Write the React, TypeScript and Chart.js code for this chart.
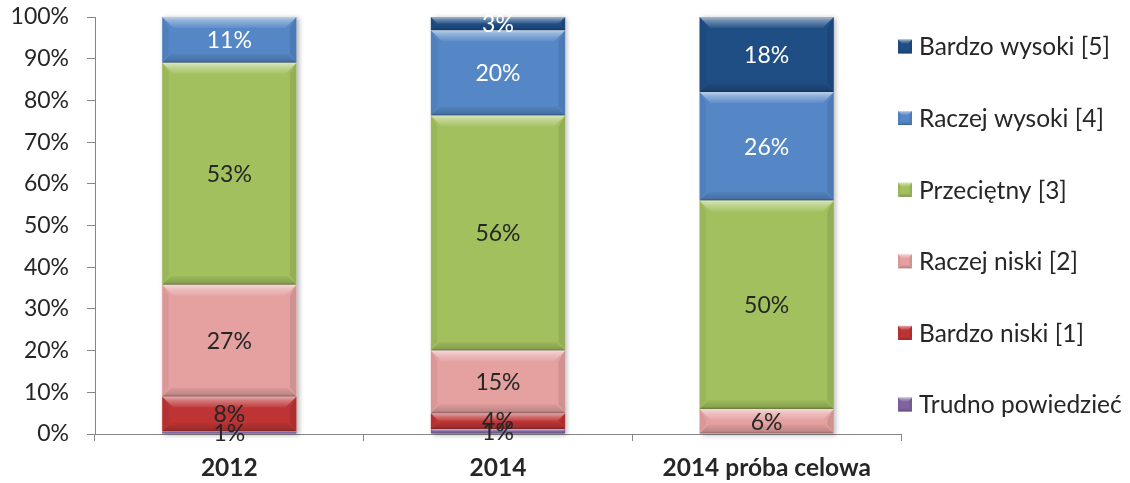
import React, { useEffect, useRef } from 'react';
import { Chart, registerables } from 'chart.js';

Chart.register(...registerables);

// ---- data ----
const categories = ['2012', '2014', '2014 próba celowa'];
const seriesLabels = [
  'Trudno powiedzieć',
  'Bardzo niski [1]',
  'Raczej niski [2]',
  'Przeciętny [3]',
  'Raczej wysoki [4]',
  'Bardzo wysoki [5]',
];
const trudnoPowiedziec = [0.6, 1.2, 0];
const bardzoNiski = [8.4, 3.8, 0];
const raczejNiski = [26.8, 15.0, 6.0];
const przecietny = [53.2, 56.4, 50.0];
const raczejWysoki = [11.0, 20.4, 26.0];
const bardzoWysoki = [0, 3.2, 18.0];
const yTickValues = [0, 10, 20, 30, 40, 50, 60, 70, 80, 90, 100];

const seriesValues = [trudnoPowiedziec, bardzoNiski, raczejNiski, przecietny, raczejWysoki, bardzoWysoki];
const seriesColors = ['#8064A2', '#BE3434', '#E5A0A0', '#A2C15E', '#5587C6', '#1F4E85'];
const labelColors = ['#262626', '#262626', '#262626', '#262626', '#FFFFFF', '#FFFFFF'];

const FONT = 'Lato, "Open Sans", sans-serif';
const TEXT = '#262626';
const AXIS = '#868686';

function bevel(ctx: CanvasRenderingContext2D, l: number, t: number, r: number, b: number, size: number) {
  const w = r - l;
  const h = b - t;
  if (w <= 0 || h <= 0) return;
  const s = Math.min(size, h / 2, w / 2);
  ctx.save();
  // top highlight
  const gt = ctx.createLinearGradient(0, t, 0, t + s);
  gt.addColorStop(0, 'rgba(255,255,255,0.6)');
  gt.addColorStop(0.35, 'rgba(255,255,255,0.35)');
  gt.addColorStop(1, 'rgba(255,255,255,0.05)');
  ctx.fillStyle = gt;
  ctx.beginPath();
  ctx.moveTo(l, t); ctx.lineTo(r, t); ctx.lineTo(r - s, t + s); ctx.lineTo(l + s, t + s); ctx.closePath();
  ctx.fill();
  // bottom shade
  const sb = s * 0.8;
  const gb = ctx.createLinearGradient(0, b - sb, 0, b);
  gb.addColorStop(0, 'rgba(0,0,0,0.04)');
  gb.addColorStop(0.75, 'rgba(0,0,0,0.16)');
  gb.addColorStop(1, 'rgba(0,0,0,0.38)');
  ctx.fillStyle = gb;
  ctx.beginPath();
  ctx.moveTo(l, b); ctx.lineTo(r, b); ctx.lineTo(r - sb, b - sb); ctx.lineTo(l + sb, b - sb); ctx.closePath();
  ctx.fill();
  // sides
  const ss = s * 0.6;
  ctx.fillStyle = 'rgba(0,0,0,0.05)';
  ctx.beginPath();
  ctx.moveTo(l, t); ctx.lineTo(l + ss, t + s); ctx.lineTo(l + ss, b - sb); ctx.lineTo(l, b); ctx.closePath();
  ctx.fill();
  ctx.fillStyle = 'rgba(0,0,0,0.09)';
  ctx.beginPath();
  ctx.moveTo(r, t); ctx.lineTo(r - ss, t + s); ctx.lineTo(r - ss, b - sb); ctx.lineTo(r, b); ctx.closePath();
  ctx.fill();
  ctx.restore();
}

const shadowPlugin = {
  id: 'barShadow',
  beforeDatasetsDraw(chart: any) {
    const ctx = chart.ctx;
    const n = chart.data.labels.length;
    for (let i = 0; i < n; i++) {
      let top = Infinity, bottom = -Infinity, left = 0, right = 0;
      chart.data.datasets.forEach((_: any, di: number) => {
        const el = chart.getDatasetMeta(di).data[i];
        if (!el) return;
        const { x, y, base, width } = el.getProps(['x', 'y', 'base', 'width'], true);
        top = Math.min(top, y, base);
        bottom = Math.max(bottom, y, base);
        left = x - width / 2;
        right = x + width / 2;
      });
      if (!isFinite(top)) continue;
      ctx.save();
      ctx.shadowColor = 'rgba(0,0,0,0.3)';
      ctx.shadowBlur = 5;
      ctx.shadowOffsetX = 2;
      ctx.shadowOffsetY = 1;
      ctx.fillStyle = '#ffffff';
      ctx.fillRect(left, top, right - left, bottom - top);
      ctx.restore();
    }
  },
};

const bevelPlugin = {
  id: 'bevel',
  afterDatasetsDraw(chart: any) {
    const ctx = chart.ctx;
    chart.data.datasets.forEach((ds: any, di: number) => {
      const meta = chart.getDatasetMeta(di);
      meta.data.forEach((el: any, i: number) => {
        if (!ds.data[i]) return;
        const { x, y, base, width } = el.getProps(['x', 'y', 'base', 'width'], true);
        bevel(ctx, x - width / 2, Math.min(y, base), x + width / 2, Math.max(y, base), 11);
      });
    });
  },
};

const valueLabelPlugin = {
  id: 'valueLabels',
  afterDatasetsDraw(chart: any) {
    const ctx = chart.ctx;
    ctx.save();
    ctx.font = `23px ${FONT}`;
    ctx.textAlign = 'center';
    ctx.textBaseline = 'middle';
    chart.data.datasets.forEach((ds: any, di: number) => {
      const meta = chart.getDatasetMeta(di);
      meta.data.forEach((el: any, i: number) => {
        const v = ds.data[i];
        if (!v) return;
        const { x, y, base } = el.getProps(['x', 'y', 'base'], true);
        ctx.fillStyle = labelColors[di];
        ctx.fillText(`${Math.round(v)}%`, x, (y + base) / 2 + 1);
      });
    });
    ctx.restore();
  },
};

const legendPlugin = {
  id: 'sideLegend',
  afterDraw(chart: any) {
    const ctx = chart.ctx;
    const area = chart.chartArea;
    const ds = chart.data.datasets;
    const n = ds.length;
    const spacing = 71.6;
    const cy = (area.top + area.bottom) / 2;
    const box = 14;
    const bx = area.right - 3;
    ctx.save();
    ctx.font = `24.5px ${FONT}`;
    ctx.textBaseline = 'middle';
    ctx.textAlign = 'left';
    for (let k = 0; k < n; k++) {
      const di = n - 1 - k;
      const y = cy + (k - (n - 1) / 2) * spacing;
      ctx.fillStyle = ds[di].backgroundColor;
      ctx.fillRect(bx, y - box / 2, box, box);
      bevel(ctx, bx, y - box / 2, bx + box, y + box / 2, 4);
      ctx.fillStyle = TEXT;
      ctx.fillText(ds[di].label, bx + box + 7, y + 1);
    }
    ctx.restore();
  },
};

export default function App() {
  const ref = useRef<HTMLCanvasElement | null>(null);
  useEffect(() => {
    if (!ref.current) return;
    const chart = new Chart(ref.current, {
      type: 'bar',
      data: {
        labels: categories,
        datasets: seriesLabels.map((label, i) => ({
          label,
          data: seriesValues[i],
          backgroundColor: seriesColors[i],
          borderWidth: 0,
          categoryPercentage: 1,
          barPercentage: 0.5,
        })),
      },
      options: {
        responsive: false,
        animation: false,
        devicePixelRatio: 1,
        layout: { padding: { left: 0, top: 17, right: 229, bottom: 0 } },
        plugins: {
          legend: { display: false },
          tooltip: { enabled: false },
        },
        scales: {
          x: {
            stacked: true,
            grid: { offset: true, drawOnChartArea: false, drawTicks: true, tickLength: 7, color: AXIS },
            border: { color: AXIS },
            ticks: { font: { family: FONT, size: 24.5, weight: 'bold' }, color: TEXT, padding: 12 },
            afterFit: (s: any) => { s.height = 49; s.paddingLeft = 0; s.paddingRight = 0; },
          },
          y: {
            stacked: true,
            min: 0,
            max: 100,
            afterBuildTicks: (s: any) => { s.ticks = yTickValues.map((v) => ({ value: v })); },
            grid: { drawOnChartArea: false, drawTicks: true, tickLength: 8, color: AXIS },
            border: { color: AXIS },
            ticks: { font: { family: FONT, size: 23 }, color: TEXT, padding: 18, callback: (v: any) => `${v}%` },
            afterFit: (s: any) => { s.width = 95; s.paddingTop = 0; s.paddingBottom = 0; },
          },
        },
      } as any,
      plugins: [shadowPlugin, bevelPlugin, valueLabelPlugin, legendPlugin],
    });
    return () => chart.destroy();
  }, []);
  return (
    <div style={{ position: 'absolute', left: 0, top: 0, width: 1130, height: 483, background: '#fff' }}>
      <canvas ref={ref} width={1130} height={483} />
    </div>
  );
}
